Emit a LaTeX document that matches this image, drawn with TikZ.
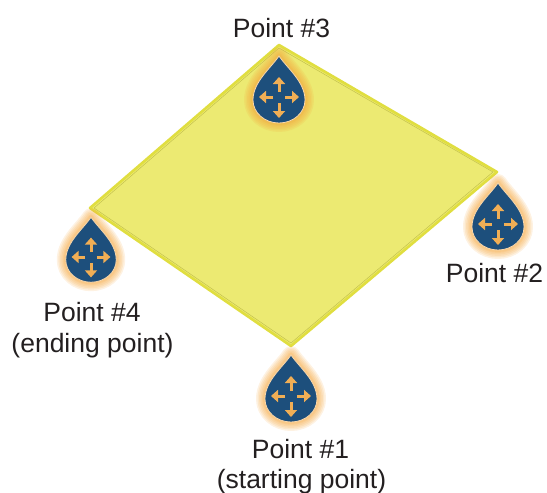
\documentclass[tikz,border=0pt]{standalone}
\usepackage{fontspec}
\setmainfont{Liberation Sans}
\usetikzlibrary{arrows.meta}
\definecolor{sheetfill}{HTML}{ECEA72}
\definecolor{sheetedge}{HTML}{E0DE40}
\definecolor{sheetline}{HTML}{C4C24A}
\definecolor{dropblue}{HTML}{1D4F7C}
\definecolor{dropglow}{HTML}{F5A63C}
\definecolor{droparrow}{HTML}{F0AE55}
\definecolor{labelink}{HTML}{231F20}
\tikzset{
  pointlabel/.style={anchor=base,inner sep=0pt,text=labelink,font=\fontsize{26.5}{30}\selectfont},
  droparrowline/.style={draw=droparrow,line width=3pt,-{Triangle[length=7pt,width=12pt]}},
  dropshape/.pic={
    \foreach \w in {18,15,12,9,6,4}
      \draw[dropglow,opacity=.15,line width=\w pt,line join=round] (0,-41) .. controls (8,-29) and (26,-15) .. (26,3) .. controls (26,16) and (14,26) .. (0,26) .. controls (-14,26) and (-26,16) .. (-26,3) .. controls (-26,-15) and (-8,-29) .. (0,-41) -- cycle;
    \draw[fill=dropblue,draw=droparrow!50!white,line width=.8pt] (0,-41) .. controls (8,-29) and (26,-15) .. (26,3) .. controls (26,16) and (14,26) .. (0,26) .. controls (-14,26) and (-26,16) .. (-26,3) .. controls (-26,-15) and (-8,-29) .. (0,-41) -- cycle;
    \draw[droparrowline] (0,-5) -- (0,-20);
    \draw[droparrowline] (0,6) -- (0,21);
    \draw[droparrowline] (-6,0) -- (-20,0);
    \draw[droparrowline] (6,0) -- (20,0);
  }
}
\begin{document}
\begin{tikzpicture}[x=1pt,y=-1pt,line width=.5pt]
\path[use as bounding box] (0,0) rectangle (547,493);
\draw[fill=sheetfill,draw=sheetedge,line width=2.6pt,line join=round] (279,45) -- (497,172) -- (291,346) -- (90,208) -- cycle;
\draw[sheetline,line width=.5pt,line join=round] (279,48) -- (493,172) -- (291,343) -- (94,208) -- cycle;
\pic at (279,97) {dropshape};
\pic at (498,224) {dropshape};
\pic[scale=.97] at (91,257) {dropshape};
\pic at (291,396) {dropshape};
\node[pointlabel] (point3) at (281.5,37) {Point \#3};
\node[pointlabel] (point2) at (494.5,282) {Point \#2};
\node[pointlabel] (point4) at (92,321) {Point \#4};
\node[pointlabel] (point4note) at (92.5,352) {(ending point)};
\node[pointlabel] (point1) at (300.5,458) {Point \#1};
\node[pointlabel] (point1note) at (301.5,488) {(starting point)};
\end{tikzpicture}
\end{document}
